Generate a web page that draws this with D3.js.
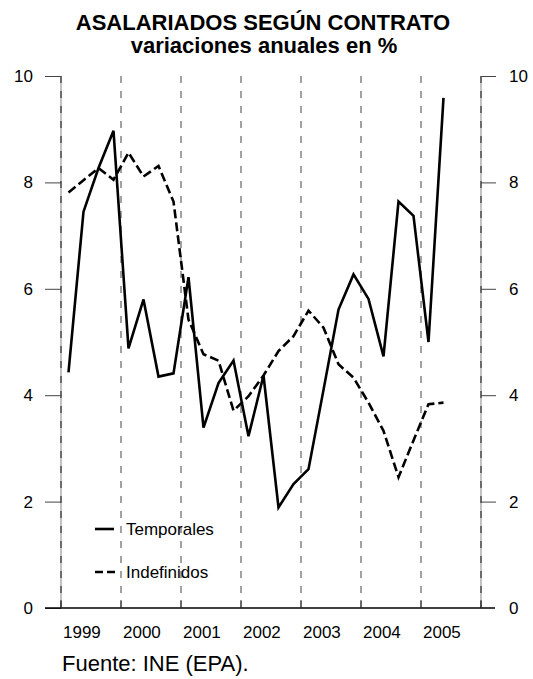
<!DOCTYPE html>
<html><head><meta charset="utf-8">
<script src="https://cdn.jsdelivr.net/npm/d3@7"></script>
<style>body{margin:0;background:#fff}svg{display:block}text{font-family:"Liberation Sans",Arial,sans-serif;fill:#000}</style>
</head><body><svg id="c" width="533" height="679"></svg>
<script>
const years = [1999, 2000, 2001, 2002, 2003, 2004, 2005];
const quarters = ["1999-I","1999-II","1999-III","1999-IV","2000-I","2000-II","2000-III","2000-IV",
  "2001-I","2001-II","2001-III","2001-IV","2002-I","2002-II","2002-III","2002-IV",
  "2003-I","2003-II","2003-III","2003-IV","2004-I","2004-II","2004-III","2004-IV","2005-I","2005-II"];
const temporales = [4.43,7.45,8.27,8.97,4.88,5.80,4.35,4.41,6.22,3.39,4.23,4.65,3.23,4.37,1.89,2.33,
  2.61,4.1,5.61,6.27,5.81,4.73,7.64,7.37,5.0,9.59];
const indefinidos = [7.81,8.04,8.27,8.05,8.56,8.11,8.31,7.64,5.42,4.77,4.65,3.71,3.98,4.37,4.83,5.11,
  5.59,5.27,4.58,4.33,3.86,3.33,2.46,3.15,3.83,3.86];
const yTicks = [0, 2, 4, 6, 8, 10];

const svg = d3.select("#c");
const x = d3.scaleLinear().domain([1999, 2006]).range([61, 481]);
const y = d3.scaleLinear().domain([0, 10]).range([608, 76]);
const qx = q => { const [yr, r] = q.split("-"); const n = {I:1,II:2,III:3,IV:4}[r]; return x(+yr + (n - 0.5) / 4); };

// vertical dashed gridlines at year boundaries
const bounds = d3.range(2000, 2006);
svg.append("g").selectAll("line").data(bounds).join("line")
  .attr("x1", d => x(d)).attr("x2", d => x(d)).attr("y1", y(10)).attr("y2", y(0))
  .attr("stroke", "#444").attr("stroke-width", 1).attr("stroke-dasharray", "7,8");

// left & right axis lines
[1999, 2006].forEach(v => {
  svg.append("line").attr("x1", x(v)).attr("x2", x(v)).attr("y1", y(10)).attr("y2", y(0))
    .attr("stroke", "#999").attr("stroke-width", 1.2);
  svg.append("line").attr("x1", x(v)).attr("x2", x(v)).attr("y1", y(10)).attr("y2", y(0))
    .attr("stroke", "#333").attr("stroke-width", 1.2).attr("stroke-dasharray", "7,8");
});

// left axis
const left = svg.append("g").attr("transform", `translate(${x(1999)},0)`)
  .call(d3.axisLeft(y).tickValues(yTicks).tickSize(16).tickPadding(12).tickFormat(d3.format("d")));
left.select(".domain").remove();
left.selectAll(".tick line").attr("stroke", "#444");
left.selectAll(".tick text").style("font-size", "17px").attr("fill", "#000");

// right axis
const right = svg.append("g").attr("transform", `translate(${x(2006)},0)`)
  .call(d3.axisRight(y).tickValues(yTicks.filter(v => v > 0)).tickSize(15).tickPadding(13).tickFormat(d3.format("d")));
right.select(".domain").remove();
right.selectAll(".tick line").attr("stroke", "#444");
right.selectAll(".tick text").style("font-size", "17px").attr("fill", "#000");
svg.append("text").attr("x", x(2006) + 28).attr("y", y(0)).attr("dy", "0.35em")
  .style("font-size", "17px").text("0");

// bottom axis
svg.append("line").attr("x1", 45).attr("x2", 495).attr("y1", y(0)).attr("y2", y(0))
  .attr("stroke", "#000").attr("stroke-width", 1.3);
svg.append("g").selectAll("line").data(d3.range(1999, 2007)).join("line")
  .attr("x1", d => x(d)).attr("x2", d => x(d)).attr("y1", y(0)).attr("y2", y(0) - 8)
  .attr("stroke", "#333").attr("stroke-width", 1);
svg.append("g").selectAll("text").data(years).join("text")
  .attr("x", d => x(d) + 2).attr("y", 638).style("font-size", "17px").text(d => d);

// series
const line = d3.line().x(d => qx(d.q)).y(d => y(d.v));
const mk = vals => quarters.map((q, i) => ({q, v: vals[i]}));
svg.append("path").datum(mk(indefinidos)).attr("d", line).attr("fill", "none")
  .attr("stroke", "#000").attr("stroke-width", 2.6).attr("stroke-dasharray", "9,4");
svg.append("path").datum(mk(temporales)).attr("d", line).attr("fill", "none")
  .attr("stroke", "#000").attr("stroke-width", 2.6);

// legend
svg.append("line").attr("x1", 95).attr("x2", 114).attr("y1", 529).attr("y2", 529)
  .attr("stroke", "#000").attr("stroke-width", 2.6);
svg.append("line").attr("x1", 95).attr("x2", 116).attr("y1", 572).attr("y2", 572)
  .attr("stroke", "#000").attr("stroke-width", 2.6).attr("stroke-dasharray", "8,4");
svg.append("text").attr("x", 126).attr("y", 535).style("font-size", "17px").text("Temporales");
svg.append("text").attr("x", 126).attr("y", 578).style("font-size", "17px").text("Indefinidos");

// titles
svg.append("text").attr("x", 263).attr("y", 30).attr("text-anchor", "middle")
  .style("font-size", "22px").style("font-weight", "bold").text("ASALARIADOS SEGÚN CONTRATO");
svg.append("text").attr("x", 264).attr("y", 53).attr("text-anchor", "middle")
  .style("font-size", "22px").style("font-weight", "bold").text("variaciones anuales en %");

// source
svg.append("text").attr("x", 62).attr("y", 671).style("font-size", "22px").text("Fuente: INE (EPA).");
</script></body></html>
